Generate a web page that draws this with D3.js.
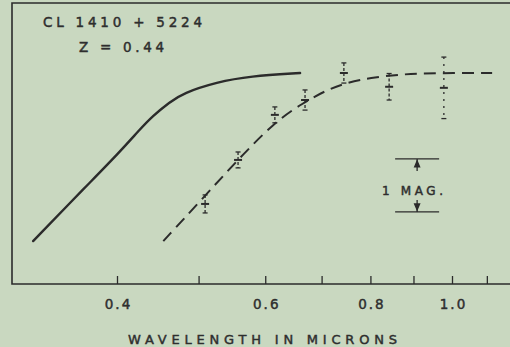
<!DOCTYPE html>
<html>
<head>
<meta charset="utf-8">
<script src="https://cdn.jsdelivr.net/npm/d3@7"></script>
<style>
  html, body { margin: 0; padding: 0; background: #c9d8c0; }
  svg { display: block; }
  text { font-family: "DejaVu Sans", sans-serif; fill: #2e2e2e; stroke: #2e2e2e; stroke-width: 0.45px; }
</style>
</head>
<body>
<svg width="510" height="347"></svg>
<script>
// ---------------------------------------------------------------------------
// data (wavelength in microns, relative magnitude, fainter = larger)
// ---------------------------------------------------------------------------
const solidLambda = [0.318, 0.368, 0.403, 0.426, 0.441, 0.462, 0.479, 0.526, 0.575, 0.660];
const solidMag = [3.17, 2.13, 1.49, 1.06, 0.81, 0.55, 0.38, 0.17, 0.06, 0.0];

const dashLambda = [0.454, 0.506, 0.555, 0.616, 0.665, 0.706, 0.746, 0.799, 0.875, 0.96, 1.116];
const dashMag = [3.17, 2.36, 1.66, 0.92, 0.57, 0.34, 0.19, 0.09, 0.02, 0.0, 0.0];

const pointLambda = [0.509, 0.557, 0.616, 0.669, 0.744, 0.842, 0.978];
const pointMag = [2.47, 1.64, 0.79, 0.51, 0.0, 0.26, 0.28];
const pointErr = [0.17, 0.15, 0.15, 0.19, 0.19, 0.25, 0.58];

const tickValues = [0.4, 0.5, 0.6, 0.7, 0.8, 0.9, 1.0, 1.1];
const tickLabels = ["0.4", "0.6", "0.8", "1.0"];

const magBarLambda = 0.909;
const magBarTop = 1.62;

// ---------------------------------------------------------------------------
const svg = d3.select("svg");
const ink = "#2b2b2b";

const x = d3.scaleLog().domain([0.4, 1.0]).range([117, 452]);
const y = d3.scaleLinear().domain([-1.32, 3.98]).range([3, 284]);

// frame (right side runs off the picture)
svg.append("path")
  .attr("d", "M530,3 H12 V284 H530")
  .attr("fill", "none")
  .attr("stroke", ink)
  .attr("stroke-width", 1.6);

// axis with inward ticks
const axis = svg.append("g")
  .attr("transform", "translate(0,284)")
  .call(d3.axisBottom(x)
    .tickValues(tickValues)
    .tickSize(-8)
    .tickPadding(15)
    .tickFormat((d) => {
      const s = d3.format(".1f")(d);
      return tickLabels.includes(s) ? s : "";
    }));
axis.select(".domain").remove();
axis.selectAll(".tick line").attr("stroke", ink).attr("stroke-width", 1.3);
axis.selectAll(".tick text")
  .attr("font-size", 13.5)
  .attr("letter-spacing", "2px")
  .attr("dx", "1px")
  .style("fill", "#2e2e2e");

const line = d3.line()
  .x((d) => x(d[0]))
  .y((d) => y(d[1]))
  .curve(d3.curveBasis);

svg.append("path")
  .datum(d3.zip(solidLambda, solidMag))
  .attr("d", line)
  .attr("fill", "none")
  .attr("stroke", ink)
  .attr("stroke-width", 2.4)
  .attr("stroke-linecap", "round");

svg.append("path")
  .datum(d3.zip(dashLambda, dashMag))
  .attr("d", line)
  .attr("fill", "none")
  .attr("stroke", ink)
  .attr("stroke-width", 2)
  .attr("stroke-dasharray", "12,7");

// observed points with error bars
const pts = svg.append("g")
  .selectAll("g")
  .data(d3.range(pointLambda.length))
  .join("g")
  .attr("transform", (i) => `translate(${x(pointLambda[i])},0)`);

pts.append("line")
  .attr("y1", (i) => y(pointMag[i] - pointErr[i]))
  .attr("y2", (i) => y(pointMag[i] + pointErr[i]))
  .attr("stroke", ink)
  .attr("stroke-width", 1.3)
  .attr("stroke-dasharray", (i) => (i === pointLambda.length - 1 ? "2,5" : "3,2"));

[-1, 0, 1].forEach((k) => {
  pts.append("line")
    .attr("x1", (i) => (k === 0 ? -4 : -2.5))
    .attr("x2", (i) => (k === 0 ? 4 : 2.5))
    .attr("y1", (i) => y(pointMag[i] + k * pointErr[i]))
    .attr("y2", (i) => y(pointMag[i] + k * pointErr[i]))
    .attr("stroke", ink)
    .attr("stroke-width", k === 0 ? 2 : 1.3);
});

// 1 MAG scale bar
const bx = x(magBarLambda);
const yTop = y(magBarTop);
const yBot = y(magBarTop + 1);
const bar = svg.append("g").attr("stroke", ink).attr("stroke-width", 1.3);
bar.append("line").attr("x1", bx - 22).attr("x2", bx + 22).attr("y1", yTop).attr("y2", yTop);
bar.append("line").attr("x1", bx - 22).attr("x2", bx + 22).attr("y1", yBot).attr("y2", yBot);
bar.append("line").attr("x1", bx).attr("x2", bx).attr("y1", yTop).attr("y2", yTop + 12);
bar.append("line").attr("x1", bx).attr("x2", bx).attr("y1", yBot - 12).attr("y2", yBot);
bar.append("path").attr("d", `M${bx - 2.5},${yTop + 8} L${bx},${yTop + 2} L${bx + 2.5},${yTop + 8} Z`).attr("fill", ink);
bar.append("path").attr("d", `M${bx - 2.5},${yBot - 8} L${bx},${yBot - 2} L${bx + 2.5},${yBot - 8} Z`).attr("fill", ink);

// texts
const label = (txt, tx, ty, size, len) =>
  svg.append("text")
    .attr("x", tx)
    .attr("y", ty)
    .attr("font-size", size)
    .attr("textLength", len)
    .attr("lengthAdjust", "spacing")
    .text(txt);

label("CL 1410 + 5224", 43, 27, 13.5, 159);
label("Z = 0.44", 79, 52, 13.5, 85);
label("1 MAG.", 382, 195, 12, 61);
label("WAVELENGTH IN MICRONS", 128, 344, 13, 269);
</script>
</body>
</html>
